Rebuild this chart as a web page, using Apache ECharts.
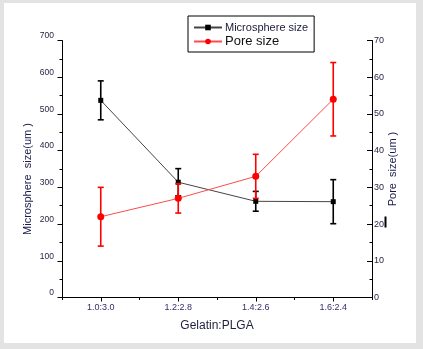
<!DOCTYPE html>
<html>
<head>
<meta charset="utf-8">
<script src="https://cdn.jsdelivr.net/npm/echarts@6/dist/echarts.min.js"></script>
<style>
html,body{margin:0;padding:0;background:#e3e3e3;}
#wrap{position:relative;width:423px;height:349px;background:#e3e3e3;}
#paper{position:absolute;left:4px;top:3px;width:412px;height:340px;background:#fff;}
#c{position:absolute;left:0;top:0;width:423px;height:349px;}
</style>
</head>
<body>
<div id="wrap"><div id="paper"></div><div id="c"></div></div>
<script>
const categories = ['1.0:3.0', '1.2:2.8', '1.4:2.6', '1.6:2.4'];
const microSize = [537, 314, 262, 261];
const microErr = [53, 37, 27, 60];
const poreSize = [22, 27, 33, 54];
const poreErr = [8, 4, 6, 10];
const leftTicks = [0, 100, 200, 300, 400, 500, 600, 700];
const rightTicks = [0, 10, 20, 30, 40, 50, 60, 70];

const chart = echarts.init(document.getElementById('c'), null, {renderer: 'canvas'});

function errSeries(name, yIdx, vals, errs, color) {
  return {
    type: 'custom',
    name: name,
    xAxisIndex: 0,
    yAxisIndex: yIdx,
    encode: {x: 0, y: [1, 2]},
    data: categories.map((c, i) => [i, vals[i] - errs[i], vals[i] + errs[i]]),
    renderItem: function (params, api) {
      const lo = api.coord([api.value(0), api.value(1)]);
      const hi = api.coord([api.value(0), api.value(2)]);
      const w = 3;
      const st = {stroke: color, lineWidth: 1.6};
      return {
        type: 'group',
        children: [
          {type: 'line', shape: {x1: hi[0], y1: hi[1], x2: lo[0], y2: lo[1]}, style: st},
          {type: 'line', shape: {x1: hi[0] - w, y1: hi[1], x2: hi[0] + w, y2: hi[1]}, style: st},
          {type: 'line', shape: {x1: lo[0] - w, y1: lo[1], x2: lo[0] + w, y2: lo[1]}, style: st}
        ]
      };
    },
    silent: true,
    z: 3
  };
}

const labelColor = '#1f1f3f';

chart.setOption({
  animation: false,
  grid: {left: 62, right: 51, top: 40.5, bottom: 51.5, containLabel: false},
  legend: {
    orient: 'vertical',
    left: 188,
    top: 16,
    padding: [6, 6, 4, 5],
    itemGap: 2,
    itemWidth: 28,
    itemHeight: 7,
    borderColor: '#000',
    borderWidth: 1,
    backgroundColor: '#fff',
    textStyle: {fontFamily: 'Liberation Sans, Arial', color: '#1a1a3a', padding: [0, 0, 0, -2]},
    data: [
      {name: 'Microsphere size', textStyle: {fontSize: 11}},
      {name: 'Pore size', textStyle: {fontSize: 13, color: '#111'}}
    ]
  },
  xAxis: [
    {
      type: 'category',
      data: categories,
      position: 'bottom',
      boundaryGap: true,
      name: 'Gelatin:PLGA',
      nameLocation: 'middle',
      nameGap: 22,
      nameMoveOverlap: false,
      nameTextStyle: {fontFamily: 'Liberation Sans, Arial', fontSize: 12, color: '#1f1f3f'},
      axisLine: {show: true, lineStyle: {color: '#000', width: 1}},
      axisTick: {show: true, alignWithLabel: true, length: 4, lineStyle: {color: '#000'}},
      axisLabel: {fontFamily: 'Liberation Sans, Arial', fontSize: 9, color: '#3a2a6a', margin: 6},
      splitLine: {show: false}
    },
    {
      type: 'category',
      data: categories,
      position: 'bottom',
      boundaryGap: true,
      axisLine: {show: false},
      axisTick: {show: true, alignWithLabel: false, length: 2.5, lineStyle: {color: '#000'}},
      axisLabel: {show: false},
      splitLine: {show: false}
    }
  ],
  yAxis: [
    {
      type: 'value',
      position: 'left',
      min: leftTicks[0],
      max: leftTicks[leftTicks.length - 1],
      interval: leftTicks[1] - leftTicks[0],
      name: 'Microsphere  size(um )',
      nameLocation: 'middle',
      nameGap: 29,
      nameRotate: 90,
      nameMoveOverlap: false,
      nameTextStyle: {fontFamily: 'Liberation Sans, Arial', fontSize: 11, color: '#1a1a4a', padding: [0, 20, 0, 0]},
      axisLine: {show: true, lineStyle: {color: '#000', width: 1}},
      axisTick: {show: true, inside: false, length: 4.5, lineStyle: {color: '#000'}},
      minorTick: {show: true, splitNumber: 2, length: 2.5, lineStyle: {color: '#000'}},
      axisLabel: {fontFamily: 'Liberation Sans, Arial', fontSize: 8.5, color: labelColor, margin: 8, verticalAlign: 'bottom', lineHeight: 9},
      splitLine: {show: false}
    },
    {
      type: 'value',
      position: 'right',
      min: rightTicks[0],
      max: rightTicks[rightTicks.length - 1],
      interval: rightTicks[1] - rightTicks[0],
      name: 'Pore  size(um )',
      nameLocation: 'middle',
      nameGap: 15,
      nameRotate: 90,
      nameMoveOverlap: false,
      nameTextStyle: {fontFamily: 'Liberation Sans, Arial', fontSize: 11, color: '#1a1a4a'},
      axisLine: {show: true, lineStyle: {color: '#000', width: 1}},
      axisTick: {show: true, inside: true, length: 5, lineStyle: {color: '#000'}},
      minorTick: {show: true, splitNumber: 2, length: 2.5, lineStyle: {color: '#000'}},
      axisLabel: {fontFamily: 'Liberation Sans, Arial', fontSize: 9, color: labelColor, margin: 2, verticalAlign: 'middle', padding: [0, 0, 6, 0]},
      splitLine: {show: false}
    }
  ],
  series: [
    {
      type: 'line',
      name: 'Microsphere size',
      xAxisIndex: 0,
      yAxisIndex: 0,
      data: microSize,
      symbol: 'rect',
      symbolSize: 5,
      itemStyle: {color: '#000'},
      lineStyle: {color: '#444', width: 1},
      z: 2
    },
    errSeries('Microsphere size err', 0, microSize, microErr, '#000'),
    {
      type: 'line',
      name: 'Pore size',
      xAxisIndex: 0,
      yAxisIndex: 1,
      data: poreSize,
      symbol: 'circle',
      symbolSize: 7,
      itemStyle: {color: '#ff0000'},
      lineStyle: {color: '#ff4a4a', width: 1},
      z: 4
    },
    errSeries('Pore size err', 1, poreSize, poreErr, '#ff0000')
  ],
  graphic: [
    {type: 'rect', shape: {x: 384.5, y: 216.5, width: 2, height: 11}, style: {fill: '#000'}}
  ]
});
</script>
</body>
</html>
